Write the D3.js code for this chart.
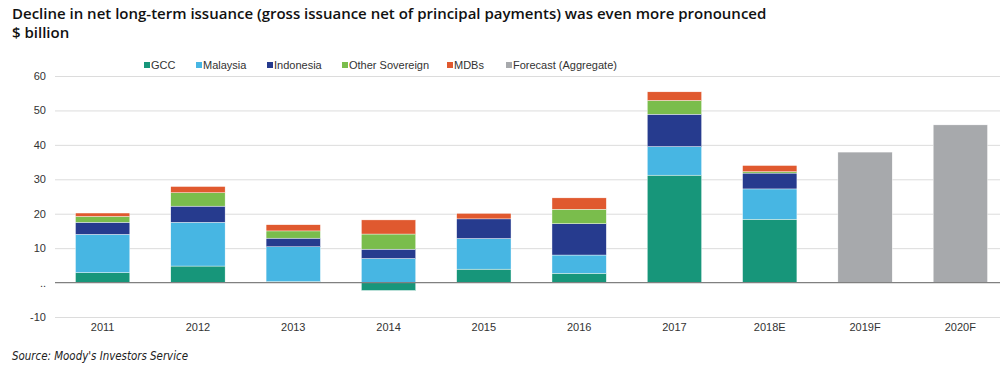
<!DOCTYPE html>
<html>
<head>
<meta charset="utf-8">
<script src="https://cdn.jsdelivr.net/npm/d3@7"></script>
<style>
  html, body { margin: 0; padding: 0; background: #fff; }
  svg { display: block; }
</style>
</head>
<body>
<svg id="chart" width="1000" height="375"></svg>
<script>
// Data ($ billion)
const years = ['2011', '2012', '2013', '2014', '2015', '2016', '2017', '2018E', '2019F', '2020F'];
const seriesNames = ['GCC', 'Malaysia', 'Indonesia', 'Other Sovereign', 'MDBs'];
const gcc       = [2.9, 4.8, 0.3, -2.3, 3.9, 2.7, 31.2, 18.4, 0, 0];
const malaysia  = [11.1, 12.7, 10.1, 7.0, 8.9, 5.3, 8.3, 8.8, 0, 0];
const indonesia = [3.5, 4.7, 2.5, 2.7, 5.7, 9.1, 9.4, 4.6, 0, 0];
const otherSov  = [1.7, 3.9, 2.1, 4.4, 0, 4.2, 4.0, 0.4, 0, 0];
const mdbs      = [1.0, 1.8, 1.8, 4.1, 1.6, 3.3, 2.5, 1.8, 0, 0];
const forecast  = [0, 0, 0, 0, 0, 0, 0, 0, 37.9, 45.8];
const yTicks = [-10, 0, 10, 20, 30, 40, 50, 60];
const yTickLabels = ['-10', '..', '10', '20', '30', '40', '50', '60'];

const colors = {
  'GCC': '#17967a',
  'Malaysia': '#47b6e3',
  'Indonesia': '#263b8e',
  'Other Sovereign': '#7abd4c',
  'MDBs': '#e0592f',
  'Forecast (Aggregate)': '#a7a9ac'
};

// rows for d3.stack
const rows = years.map((yr, i) => ({
  year: yr,
  'GCC': gcc[i],
  'Malaysia': malaysia[i],
  'Indonesia': indonesia[i],
  'Other Sovereign': otherSov[i],
  'MDBs': mdbs[i],
  'Forecast (Aggregate)': forecast[i]
}));
const keys = seriesNames.concat(['Forecast (Aggregate)']);

const svg = d3.select('#chart');

// Plot area
const left = 55, right = 1008;
const x = d3.scaleBand().domain(years).range([left, right]).paddingInner(0.43).paddingOuter(0.215);
const y = d3.scaleLinear().domain([-10, 60]).range([317, 76]);

// Title
svg.append('text')
  .attr('x', 12).attr('y', 19)
  .attr('font-family', '"Open Sans", "Noto Sans", sans-serif')
  .attr('font-size', 15).attr('font-weight', 600)
  .attr('fill', '#111')
  .text('Decline in net long-term issuance (gross issuance net of principal payments) was even more pronounced');
svg.append('text')
  .attr('x', 12).attr('y', 38)
  .attr('font-family', '"Open Sans", "Noto Sans", sans-serif')
  .attr('font-size', 15).attr('font-weight', 600)
  .attr('fill', '#111')
  .text('$ billion');

// Gridlines
svg.append('g')
  .selectAll('line')
  .data(yTicks.filter(d => d !== 0))
  .join('line')
  .attr('x1', left).attr('x2', 1000)
  .attr('y1', d => y(d) + 0.5).attr('y2', d => y(d) + 0.5)
  .attr('stroke', '#dcdcdc').attr('stroke-width', 1);

// Y axis labels
const yAxis = d3.axisLeft(y).tickValues(yTicks).tickSize(0).tickPadding(0)
  .tickFormat((d, i) => yTickLabels[i]);
svg.append('g')
  .attr('transform', 'translate(46,0)')
  .call(yAxis)
  .call(g => g.select('.domain').remove())
  .selectAll('text')
  .attr('font-family', '"Liberation Sans", Arial, sans-serif')
  .attr('font-size', 11).attr('fill', '#333');

// Stacked bars
const stack = d3.stack().keys(keys).offset(d3.stackOffsetDiverging);
const layers = stack(rows);

svg.append('g')
  .selectAll('g')
  .data(layers)
  .join('g')
  .attr('fill', d => colors[d.key])
  .selectAll('rect')
  .data(d => d.filter(s => s[1] !== s[0]))
  .join('rect')
  .attr('x', d => x(d.data.year))
  .attr('width', x.bandwidth())
  .attr('y', d => y(Math.max(d[0], d[1])))
  .attr('height', d => Math.abs(y(d[0]) - y(d[1])))
  .attr('stroke', '#fff').attr('stroke-width', 0.4);

// Zero line
svg.append('line')
  .attr('x1', left).attr('x2', 1000)
  .attr('y1', y(0)).attr('y2', y(0))
  .attr('stroke', '#808080').attr('stroke-width', 1.2);

// X axis labels
const xAxis = d3.axisBottom(x).tickSize(0).tickPadding(0);
svg.append('g')
  .attr('transform', 'translate(0,323)')
  .call(xAxis)
  .call(g => g.select('.domain').remove())
  .selectAll('text')
  .attr('font-family', '"Liberation Sans", Arial, sans-serif')
  .attr('font-size', 11).attr('fill', '#333');

// Legend
const legendX = [144, 196, 267, 342, 447, 506];
const legend = svg.append('g')
  .selectAll('g')
  .data(keys)
  .join('g')
  .attr('transform', (d, i) => `translate(${legendX[i]},65)`);
legend.append('rect')
  .attr('x', 0).attr('y', -3).attr('width', 6).attr('height', 6)
  .attr('fill', d => colors[d]);
legend.append('text')
  .attr('x', 7).attr('y', 4)
  .attr('font-family', '"Liberation Sans", Arial, sans-serif')
  .attr('font-size', 11).attr('fill', '#333')
  .text(d => d);

// Source
svg.append('text')
  .attr('x', 12).attr('y', 360)
  .attr('font-family', '"Liberation Sans Narrow", "DejaVu Sans Condensed", sans-serif')
  .attr('font-size', 12).attr('font-style', 'italic')
  .attr('textLength', 176).attr('lengthAdjust', 'spacingAndGlyphs')
  .attr('fill', '#222')
  .text("Source: Moody's Investors Service");
</script>
</body>
</html>
